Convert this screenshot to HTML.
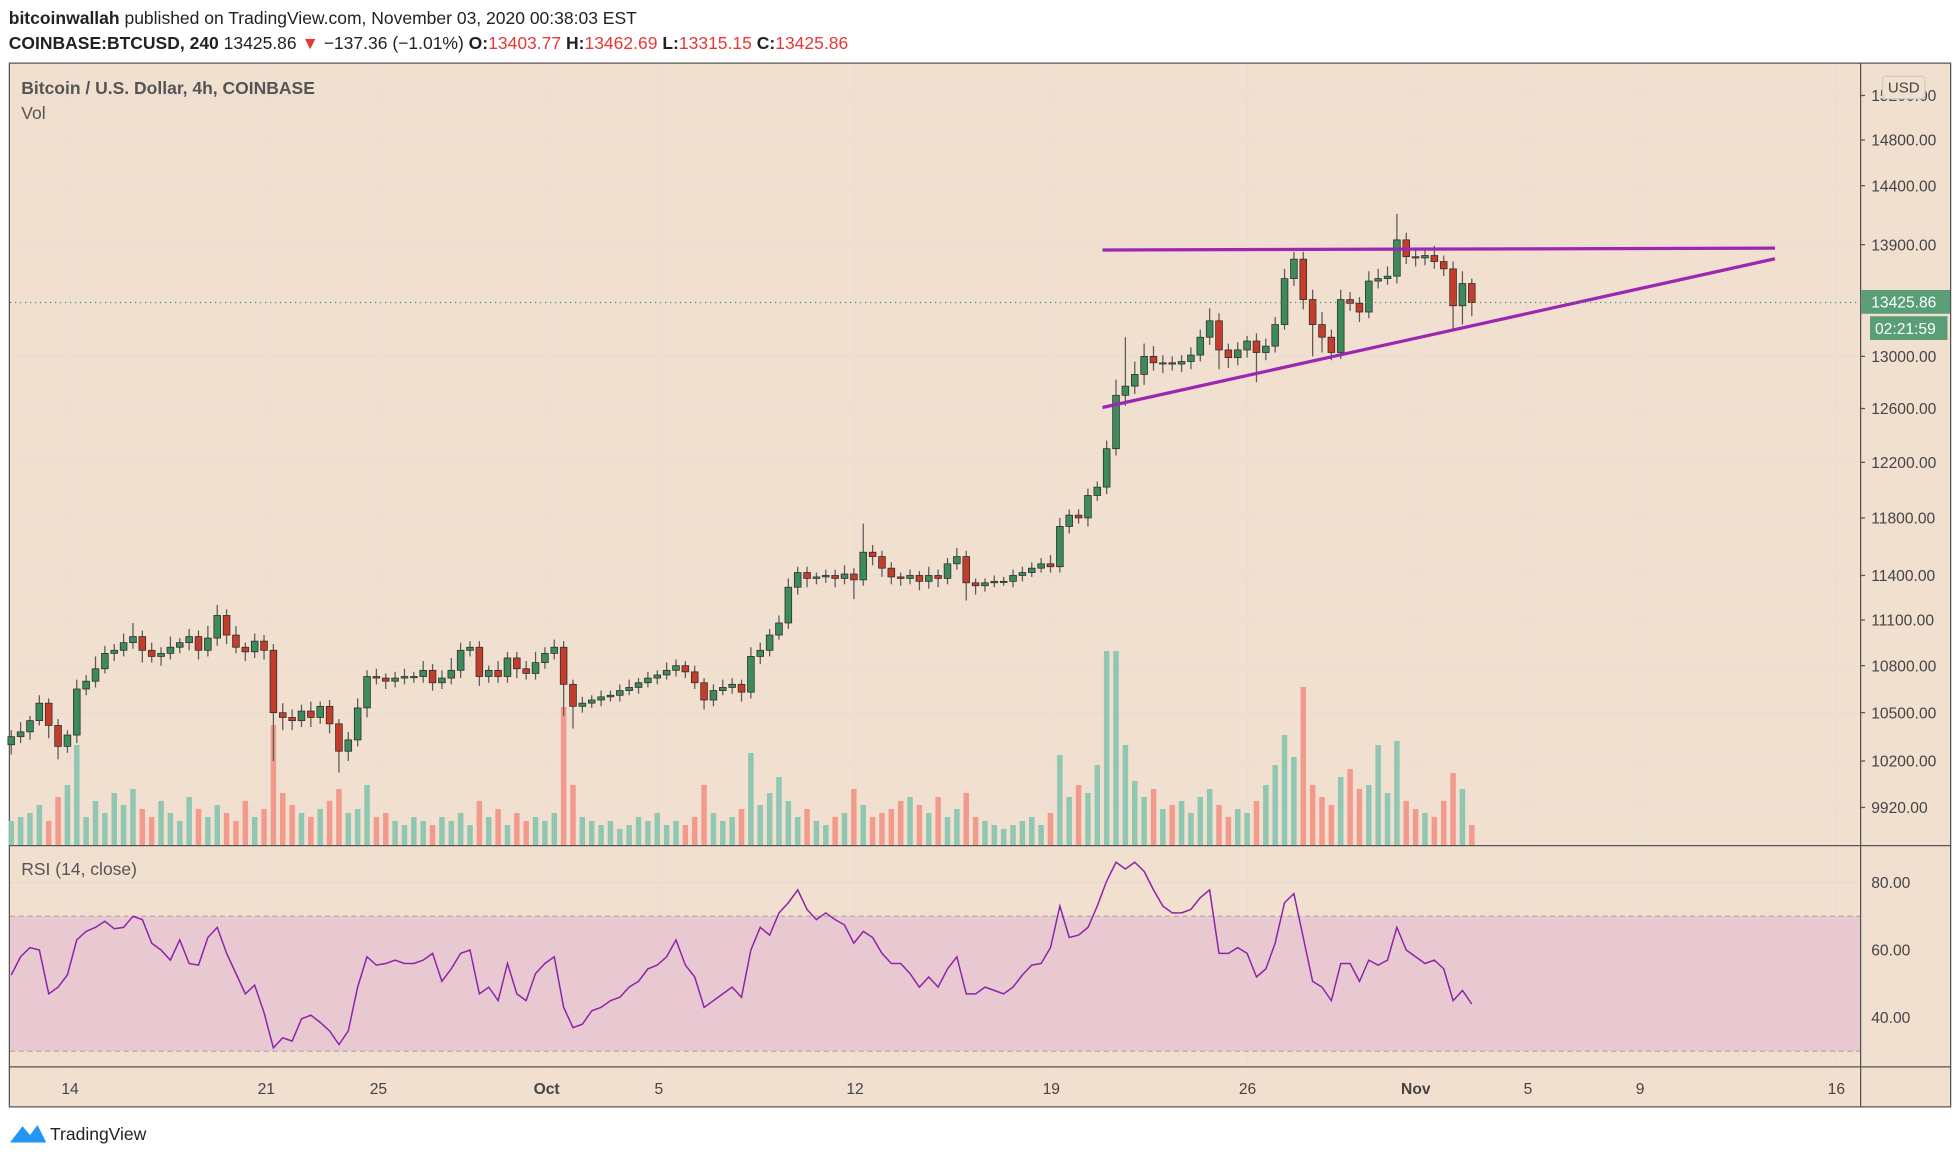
<!DOCTYPE html>
<html><head><meta charset="utf-8"><style>
html,body{margin:0;padding:0;background:#fff;}
svg{display:block;font-family:"Liberation Sans",sans-serif;}
</style></head><body>
<svg id="chart" width="1960" height="1160" viewBox="0 0 1568 928" xmlns="http://www.w3.org/2000/svg">
<rect x="0" y="0" width="1568" height="928" fill="#ffffff"/>
<text x="7" y="19" font-size="14" fill="#222"><tspan font-weight="bold">bitcoinwallah</tspan> published on TradingView.com, November 03, 2020 00:38:03 EST</text>
<text x="7" y="39" font-size="14" fill="#222"><tspan font-weight="bold">COINBASE:BTCUSD, 240</tspan> 13425.86 <tspan fill="#e53935">▼</tspan> −137.36 (−1.01%) <tspan font-weight="bold">O:</tspan><tspan fill="#e53935">13403.77</tspan> <tspan font-weight="bold">H:</tspan><tspan fill="#e53935">13462.69</tspan> <tspan font-weight="bold">L:</tspan><tspan fill="#e53935">13315.15</tspan> <tspan font-weight="bold">C:</tspan><tspan fill="#e53935">13425.86</tspan></text>
<rect x="7.5" y="50.5" width="1553" height="835" fill="#f1dfcf" stroke="#555" stroke-width="1"/>
<g id="grid"></g>
<rect x="8" y="733" width="1480" height="108" fill="#e8c9d2"/>
<line x1="8" y1="733" x2="1488" y2="733" stroke="#b8a8a8" stroke-dasharray="4,3"/>
<line x1="8" y1="841" x2="1488" y2="841" stroke="#b8a8a8" stroke-dasharray="4,3"/>
<g id="vol"></g><g id="candles"></g><g id="rsi"></g>
<line x1="882" y1="200" x2="1420" y2="198.5" stroke="#9c27b0" stroke-width="2.6"/>
<line x1="882" y1="326" x2="1420" y2="207" stroke="#9c27b0" stroke-width="2.6"/>
<line x1="1488.5" y1="50" x2="1488.5" y2="886" stroke="#555"/>
<line x1="7" y1="676.5" x2="1561" y2="676.5" stroke="#555"/>
<line x1="7" y1="853.5" x2="1561" y2="853.5" stroke="#555"/>
<g id="axes"></g>
<text x="17" y="75" font-size="14" font-weight="bold" fill="#555">Bitcoin / U.S. Dollar, 4h, COINBASE</text>
<text x="17" y="95" font-size="14" fill="#555">Vol</text>
<text x="17" y="700" font-size="14" fill="#555">RSI (14, close)</text>
<rect x="1506" y="61" width="34" height="18" rx="3" fill="#f1dfcf" stroke="#ccc"/>
<text x="1523" y="74" font-size="12" text-anchor="middle" fill="#444">USD</text>
<line x1="8" y1="242" x2="1488" y2="242" stroke="#4f9a73" stroke-dasharray="1,3"/>
<rect x="1489" y="232" width="71" height="19" fill="#5a9e78"/>
<text x="1497" y="246" font-size="12.5" fill="#fff">13425.86</text>
<rect x="1496" y="253" width="62" height="19" fill="#5a9e78"/>
<text x="1500" y="267" font-size="12.5" fill="#fff">02:21:59</text>
<g>
<path d="M8 914 L18 901 L24 908 L30 900 L37 914 Z" fill="#2196f3"/>
<text x="40" y="912" font-size="14" fill="#222">TradingView</text>
</g>
</svg>
<script>
const closes=[10350,10380,10450,10560,10420,10290,10360,10650,10700,10780,10880,10900,10950,10990,10900,10860,10880,10920,10950,10990,10900,10980,11130,11000,10920,10890,10960,10900,10500,10470,10450,10510,10470,10540,10430,10260,10330,10530,10730,10720,10700,10720,10730,10730,10770,10690,10720,10770,10900,10920,10730,10770,10730,10850,10780,10750,10820,10880,10920,10680,10540,10560,10580,10600,10610,10640,10660,10690,10720,10740,10770,10800,10760,10690,10580,10640,10660,10680,10630,10860,10900,11000,11080,11320,11420,11380,11390,11400,11380,11410,11370,11560,11530,11450,11390,11380,11400,11360,11400,11380,11480,11530,11350,11330,11350,11360,11360,11400,11420,11450,11480,11460,11740,11820,11800,11960,12020,12300,12700,12770,12860,13000,12950,12950,12940,12960,13010,13150,13280,13050,12990,13050,13120,13030,13080,13250,13620,13780,13450,13250,13150,13030,13450,13420,13350,13600,13620,13640,13940,13800,13790,13810,13760,13700,13400,13580,13426];
const wickHi=[40,60,30,50,30,40,30,60,40,80,50,40,60,90,40,50,40,70,30,50,40,80,70,40,60,30,50,40,40,60,50,40,60,30,40,30,50,60,40,50,30,40,50,30,60,40,50,80,50,40,40,30,60,40,40,50,70,40,50,40,30,40,30,40,30,40,50,30,40,30,50,40,30,40,30,40,50,40,30,60,50,40,50,60,40,40,30,40,40,60,40,200,50,40,40,30,40,30,60,40,40,60,40,30,30,40,30,40,40,40,40,60,60,40,40,50,40,60,120,380,100,100,80,60,50,50,60,60,100,60,50,60,40,60,60,60,80,60,60,80,100,60,80,60,50,80,80,80,220,60,70,60,80,50,60,100,40];
const wickLo=[60,40,50,30,80,80,40,50,40,40,30,50,40,40,80,40,60,40,40,50,60,40,50,60,40,60,40,60,300,80,60,40,60,40,60,130,60,40,60,40,50,40,40,40,40,50,40,40,50,40,60,40,40,40,60,40,40,40,40,200,140,40,30,40,30,40,30,40,30,40,30,40,40,40,60,40,30,40,60,40,50,40,30,40,50,60,40,40,60,40,130,40,60,60,50,50,40,60,50,60,40,40,120,60,40,30,30,40,40,30,30,40,40,50,40,60,40,50,50,80,60,80,60,80,50,60,60,50,60,150,80,60,60,230,60,50,40,60,80,250,120,60,50,60,80,50,60,50,60,60,70,60,60,60,200,150,110];
const volumes=[12,14,16,20,12,24,30,50,14,22,16,26,20,28,18,14,22,16,12,24,18,14,20,16,12,22,14,18,60,26,20,16,14,18,22,28,16,18,30,14,16,12,10,14,12,10,14,12,16,10,22,14,18,10,16,12,14,12,16,69,30,14,12,10,12,8,10,14,12,16,10,12,10,14,30,16,12,14,18,46,20,26,34,22,14,18,12,10,14,16,28,20,14,16,18,22,24,20,16,24,14,18,26,14,12,10,8,10,12,14,10,16,45,24,30,26,40,97,97,50,32,24,28,18,20,22,16,24,28,20,14,18,16,22,30,40,55,44,79,30,24,20,34,38,28,30,50,26,52,22,18,16,14,22,36,28,10];
const rsiVals=[52.6,58,60.7,60,47,49,52.6,63,65.5,66.7,68.5,66.3,66.7,70,69,62,60,57,63,56,55.5,63.7,66.7,59,53,47,49.6,41.5,31,34,33,39.6,40.7,38.5,36,32,36,49,58,55.5,56,57,56,56,57,59,50.7,54.4,59,60,47,49,45,56,47,45,53,56,58,43,37,38,42,43,45,46,49,50.7,54.4,55.5,58,63,55.5,52,43,45,47,49,46,60,66.7,64.4,71,74,77.8,72,69,71,69,67.4,62,65.5,63.7,59,56,56,53,49,52,49,54.4,58,47,47,49,48,47,49,52.6,55.5,56,60.7,73,63.7,64.4,66.7,73,80.4,86,84,86,83.3,77.8,73,71,71,72,75.5,77.8,59,59,60.7,59,52,54.4,62,74,76.7,63.7,50.7,49,45,56,56,50.7,57,55.5,57,66.7,60,58,56,57,54.4,45,48,44];
const priceTicks=[15200,14800,14400,13900,13000,12600,12200,11800,11400,11100,10800,10500,10200,9920];
const rsiTicks=[80,60,40];
const dayLabels=["14","21","25","Oct","5","12","19","26","Nov","5","9","16"];
const dayOffsets=[0,7,11,17,21,28,35,42,48,52,56,63];

const NS="http://www.w3.org/2000/svg";
const X0=9,STEP=7.49,DAY=22.43,DAYX0=56;
const xIdx=i=>X0+i*STEP;
const yP=p=>112+(Math.log(14800)-Math.log(p))*1334.7;
const yR=v=>706+(80-v)*2.7;
const yV=v=>676-v*1.6;
const xDay=d=>DAYX0+d*DAY;
function mk(tag,attrs,parent){const e=document.createElementNS(NS,tag);for(const k in attrs)e.setAttribute(k,attrs[k]);parent.appendChild(e);return e;}
const grid=document.getElementById('grid'),axes=document.getElementById('axes');
priceTicks.forEach(p=>{
  const y=yP(p);
  if(y>60){const l=mk('line',{x1:8,x2:1488,y1:y,y2:y,stroke:'#e9ded6','stroke-width':1},grid);
  
  }
  const t=mk('text',{x:1497,y:y+4.5,'font-size':12.5,fill:'#444'},axes);
  
  
  t.textContent=p.toFixed(2);
  mk('line',{x1:1488,x2:1492,y1:y,y2:y,stroke:'#555'},axes);
});
rsiTicks.forEach(v=>{
  const y=yR(v);
  mk('line',{x1:8,x2:1488,y1:y,y2:y,stroke:'#e6d8d4'},grid);
  const t=mk('text',{x:1497,y:y+4.5,'font-size':12.5,fill:'#444'},axes);
  
  
  t.textContent=v.toFixed(2);
});
dayLabels.forEach((s,i)=>{
  const x=xDay(dayOffsets[i]);
  const l=mk('line',{x1:x,x2:x,y1:51,y2:853,stroke:'#e9ded6'},grid);
  
  
  const t=mk('text',{x:x,y:875,'font-size':12.5,fill:'#444','text-anchor':'middle','font-weight':(s==='Oct'||s==='Nov')?'bold':'normal'},axes);
  
  
  t.textContent=s;
});
const cg=document.getElementById('candles'),vg=document.getElementById('vol');
closes.forEach((c,i)=>{
  const o=i===0?10300:closes[i-1];
  const up=c>=o;
  const hi=Math.max(o,c)+wickHi[i],lo=Math.min(o,c)-wickLo[i];
  const x=xIdx(i);
  const v=mk('rect',{x:x-2.2,y:yV(volumes[i]),width:4.4,height:volumes[i]*1.6,fill:up?'#8fc7b3':'#f29a8c'},vg);
  
  
  const w=mk('line',{x1:x,x2:x,y1:yP(hi),y2:yP(lo),stroke:'#5a5a5a','stroke-width':1},cg);
  
  
  const yt=yP(Math.max(o,c)),yb=yP(Math.min(o,c));
  const b=mk('rect',{x:x-2.7,y:yt,width:5.4,height:Math.max(1,yb-yt),fill:up?'#3d8a5c':'#c43d2c',stroke:'#2c2c2c','stroke-width':0.6},cg);
  
  
});
const pts=rsiVals.map((v,i)=>xIdx(i).toFixed(1)+','+yR(v).toFixed(1)).join(' ');
const rl=mk('polyline',{points:pts,fill:'none',stroke:'#8e24aa','stroke-width':1.2},document.getElementById('rsi'));


</script>
</body></html>
